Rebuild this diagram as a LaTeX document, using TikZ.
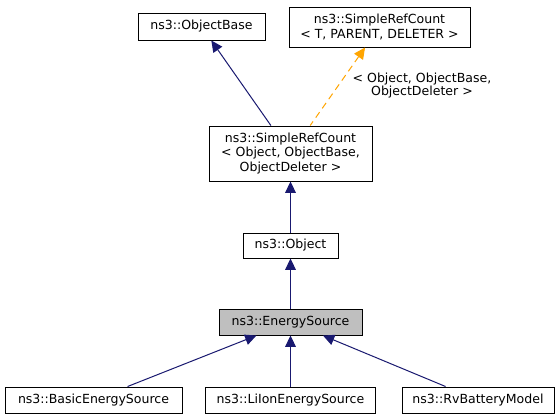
\documentclass[tikz,border=0pt]{standalone}
\usepackage{fontspec}
\setmainfont{DejaVu Sans}
\usetikzlibrary{arrows.meta}
\definecolor{navyedge}{HTML}{191970}
\definecolor{orangeedge}{HTML}{FFA500}
\definecolor{focusfill}{HTML}{BFBFBF}
\begin{document}
\begin{tikzpicture}[x=0.75pt,y=-0.75pt,
  cls/.style={draw=black,line width=0.75pt,fill=white,inner sep=0pt,align=center,
    font=\fontsize{9.4}{10.9}\selectfont},
  focus/.style={cls,fill=focusfill},
  inherit/.style={draw=navyedge,line width=0.75pt,
    {Triangle[length=8.5pt,width=8pt,fill=navyedge]}-},
  templ/.style={draw=orangeedge,line width=0.75pt,dash pattern=on 5pt off 3.5pt,
    {Triangle[length=8.5pt,width=8pt,fill=orangeedge]}-},
  elabel/.style={align=center,font=\fontsize{9.4}{10}\selectfont,inner sep=0pt}]
\useasboundingbox (0,0) rectangle (559,419);
\fill[white] (0,0) rectangle (559,419);
\node[cls,minimum width=95.25pt,minimum height=20.25pt] (ob) at (201.5,26.5) {ns3::ObjectBase};
\node[cls,minimum width=135.75pt,minimum height=30pt] (srt) at (379.5,27) {ns3::SimpleRefCount\\< T, PARENT, DELETER >};
\node[cls,minimum width=122.25pt,minimum height=41.25pt] (sro) at (290.5,153.5) {ns3::SimpleRefCount\\< Object, ObjectBase,\\ObjectDeleter >};
\node[cls,minimum width=71.25pt,minimum height=18.75pt] (obj) at (290.5,245.5) {ns3::Object};
\node[focus,minimum width=107.25pt,minimum height=19.5pt] (es) at (290.5,322) {ns3::EnergySource};
\node[cls,minimum width=132.75pt,minimum height=19.5pt] (bes) at (93.5,400) {ns3::BasicEnergySource};
\node[cls,minimum width=127.5pt,minimum height=19.5pt] (li) at (290.5,400) {ns3::LiIonEnergySource};
\node[cls,minimum width=114pt,minimum height=19.5pt] (rv) at (478,400) {ns3::RvBatteryModel};
\draw[inherit] (ob) -- (sro);
\draw[templ] (srt) -- (sro) node[pos=0.49,elabel,anchor=west,xshift=10.5pt] (lab) {< Object, ObjectBase,\\ObjectDeleter >};
\draw[inherit] (sro) -- (obj);
\draw[inherit] (obj) -- (es);
\draw[inherit] (es) -- (bes);
\draw[inherit] (es) -- (li);
\draw[inherit] (es) -- (rv);
\end{tikzpicture}
\end{document}
